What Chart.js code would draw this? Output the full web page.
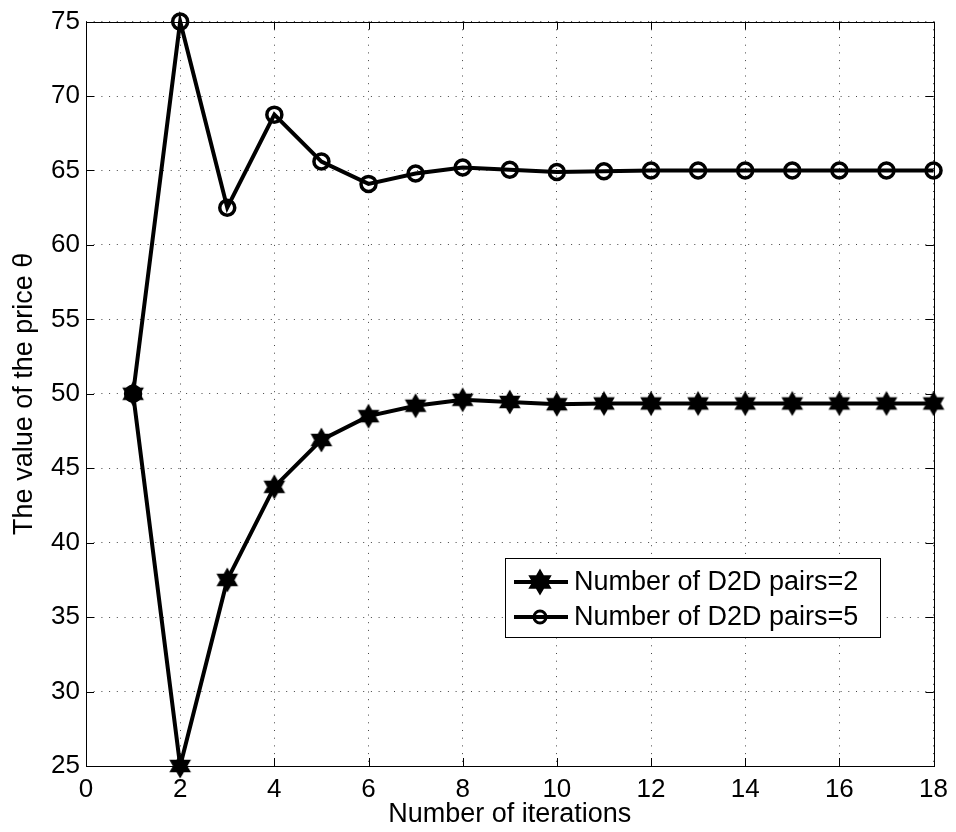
<!DOCTYPE html>
<html>
<head>
<meta charset="utf-8">
<script src="https://cdn.jsdelivr.net/npm/chart.js@4.4.1/dist/chart.umd.min.js"></script>
<style>
  html, body { margin: 0; padding: 0; background: #fff; }
  #wrap { width: 956px; height: 832px; }
</style>
</head>
<body>
<div id="wrap"><canvas id="c" width="956" height="832"></canvas></div>
<script>
// Iteration index and price theta for two D2D pair counts
const iterations = [1, 2, 3, 4, 5, 6, 7, 8, 9, 10, 11, 12, 13, 14, 15, 16, 17, 18];
const pairs2 = [50, 25, 37.5, 43.75, 46.9, 48.5, 49.2, 49.6, 49.45, 49.3, 49.35, 49.35, 49.35, 49.35, 49.35, 49.35, 49.35, 49.35];
const pairs5 = [50, 75, 62.5, 68.75, 65.6, 64.1, 64.8, 65.2, 65.05, 64.9, 64.95, 65, 65, 65, 65, 65, 65, 65];
const seriesLabels = ['Number of D2D pairs=2', 'Number of D2D pairs=5'];
const xTicks = { min: 0, max: 18, step: 2 };
const yTicks = { min: 25, max: 75, step: 5 };

const FONT = 'Liberation Sans, Arial, Helvetica, sans-serif';

// Filled six-pointed star marker
function hexagram(R, lw) {
  const size = Math.ceil(2 * R + lw + 4);
  const c = document.createElement('canvas');
  c.width = size; c.height = size;
  const g = c.getContext('2d');
  const cx = size / 2, cy = size / 2, r = R / Math.sqrt(3);
  g.beginPath();
  for (let k = 0; k < 12; k++) {
    const a = -Math.PI / 2 + k * Math.PI / 6;
    const rr = k % 2 === 0 ? R : r;
    const px = cx + rr * Math.cos(a), py = cy + rr * Math.sin(a);
    k === 0 ? g.moveTo(px, py) : g.lineTo(px, py);
  }
  g.closePath();
  g.fillStyle = '#000';
  g.fill();
  g.lineWidth = lw;
  g.lineJoin = 'miter';
  g.strokeStyle = '#000';
  g.stroke();
  return c;
}
const starImg = hexagram(11, 1.5);
const legendStarImg = hexagram(12, 1.5);

const toPoints = (ys) => iterations.map((x, i) => ({ x, y: ys[i] }));

// Box around the plot plus inward tick marks on all four sides
const framePlugin = {
  id: 'frame',
  beforeDatasetsDraw(chart) {
    const { ctx, chartArea: a, scales } = chart;
    const tl = 8;
    ctx.save();
    ctx.strokeStyle = '#000';
    ctx.lineWidth = 1;
    ctx.beginPath();
    scales.x.ticks.forEach(t => {
      const px = Math.round(scales.x.getPixelForValue(t.value)) + 0.5;
      ctx.moveTo(px, a.bottom); ctx.lineTo(px, a.bottom - tl);
      ctx.moveTo(px, a.top); ctx.lineTo(px, a.top + tl);
    });
    scales.y.ticks.forEach(t => {
      const py = Math.round(scales.y.getPixelForValue(t.value)) + 0.5;
      ctx.moveTo(a.left, py); ctx.lineTo(a.left + tl, py);
      ctx.moveTo(a.right, py); ctx.lineTo(a.right - tl, py);
    });
    ctx.stroke();
    ctx.strokeRect(Math.round(a.left) + 0.5, Math.round(a.top) + 0.5,
                   Math.round(a.right - a.left), Math.round(a.bottom - a.top));
    ctx.restore();
  }
};

// Boxed legend inside the plot area
const boxLegendPlugin = {
  id: 'boxLegend',
  afterDraw(chart) {
    const { ctx } = chart;
    const box = { x: 505, y: 558, w: 375, h: 79 };
    const rowY = [582, 617];
    ctx.save();
    ctx.fillStyle = '#fff';
    ctx.fillRect(box.x, box.y, box.w, box.h);
    ctx.strokeStyle = '#000';
    ctx.lineWidth = 1;
    ctx.strokeRect(box.x + 0.5, box.y + 0.5, box.w, box.h);
    chart.data.datasets.forEach((ds, i) => {
      const y = rowY[i];
      ctx.strokeStyle = '#000';
      ctx.lineWidth = 4;
      ctx.beginPath();
      ctx.moveTo(514, y); ctx.lineTo(568, y);
      ctx.stroke();
      if (ds.pointStyle === 'circle') {
        ctx.lineWidth = 3;
        ctx.beginPath();
        ctx.arc(540, y, 6, 0, Math.PI * 2);
        ctx.stroke();
      } else {
        ctx.drawImage(legendStarImg, 540 - legendStarImg.width / 2, y - legendStarImg.height / 2);
      }
      ctx.fillStyle = '#000';
      ctx.font = '27px ' + FONT;
      ctx.textBaseline = 'middle';
      ctx.textAlign = 'left';
      ctx.fillText(ds.label, 574, y + 1);
    });
    ctx.restore();
  }
};

new Chart(document.getElementById('c'), {
  type: 'line',
  data: {
    datasets: [
      {
        label: seriesLabels[0],
        data: toPoints(pairs2),
        borderColor: '#000',
        borderWidth: 4,
        pointStyle: starImg,
        pointRadius: 11,
        pointBorderWidth: 1.5,
        tension: 0,
        clip: false
      },
      {
        label: seriesLabels[1],
        data: toPoints(pairs5),
        borderColor: '#000',
        borderWidth: 4,
        pointStyle: 'circle',
        pointRadius: 7.5,
        pointBorderWidth: 3.5,
        pointBorderColor: '#000',
        pointBackgroundColor: 'rgba(0,0,0,0)',
        tension: 0,
        clip: false
      }
    ]
  },
  options: {
    responsive: false,
    animation: false,
    devicePixelRatio: 1,
    layout: { padding: { top: 21, right: 18, left: 0, bottom: 0 } },
    plugins: { legend: { display: false }, tooltip: { enabled: false } },
    scales: {
      x: {
        type: 'linear',
        min: xTicks.min, max: xTicks.max,
        ticks: { stepSize: xTicks.step, color: '#000', font: { family: FONT, size: 26 }, padding: 8, maxRotation: 0 },
        grid: { color: '#444', lineWidth: 1, drawTicks: false },
        border: { display: false, dash: [1, 6.7] },
        title: { display: true, text: 'Number of iterations', color: '#000', font: { family: FONT, size: 27 }, padding: { top: 0, bottom: 1 } },
        afterFit(scale) { scale.height = 66; }
      },
      y: {
        type: 'linear',
        min: yTicks.min, max: yTicks.max,
        ticks: { stepSize: yTicks.step, color: '#000', font: { family: FONT, size: 26 }, padding: 6 },
        grid: { color: '#444', lineWidth: 1, drawTicks: false },
        border: { display: false, dash: [1, 6.7] },
        title: { display: true, text: 'The value of the price θ', color: '#000', font: { family: FONT, size: 27 }, padding: { top: 8, bottom: 0 } },
        afterFit(scale) { scale.width = 86; }
      }
    }
  },
  plugins: [framePlugin, boxLegendPlugin]
});
</script>
</body>
</html>
